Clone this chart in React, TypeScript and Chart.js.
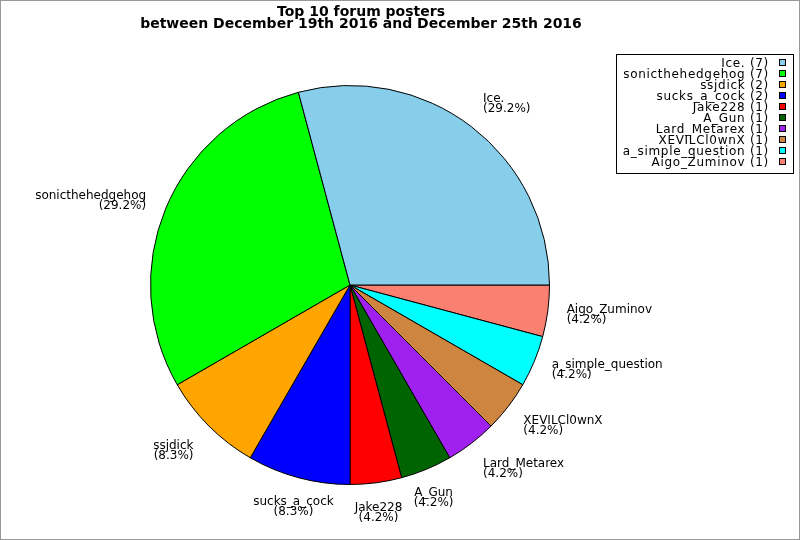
import { useEffect, useRef } from "react";
import { Chart, registerables } from "chart.js";
Chart.register(...registerables);

const titleLines = ["Top 10 forum posters", "between December 19th 2016 and December 25th 2016"];
const posters = [
  "Ice.",
  "sonicthehedgehog",
  "ssjdick",
  "sucks_a_cock",
  "Jake228",
  "A_Gun",
  "Lard_Metarex",
  "XEVILCl0wnX",
  "a_simple_question",
  "Aigo_Zuminov",
];
const postCounts = [7, 7, 2, 2, 1, 1, 1, 1, 1, 1];
const sliceColors = [
  "#87ceeb",
  "#00ff00",
  "#ffa500",
  "#0000ff",
  "#ff0000",
  "#006400",
  "#a020f0",
  "#cd853f",
  "#00ffff",
  "#fa8072",
];

const FONT = "12px 'DejaVu Sans'";
const BOLD = "bold 14px 'DejaVu Sans'";

// vertical shift of a slice label (fraction of its height) by angle, deg ccw from east
const dyTable: [number, number][] = [
  [0, 0.55],
  [45, 1],
  [135, 1],
  [157.5, 0.58],
  [225, 0],
  [315, 0],
  [337.5, 0.5],
  [360, 0.55],
];

const alignFor = (a: number) => {
  let dx = 0;
  if (a >= 90 && a <= 240) dx = 1;
  else if (a > 240 && a < 300) dx = 0.5;
  let dy = 0;
  for (let k = 0; k < dyTable.length - 1; k++) {
    const [a0, d0] = dyTable[k];
    const [a1, d1] = dyTable[k + 1];
    if (a >= a0 && a <= a1) {
      dy = d0 + ((a - a0) / (a1 - a0)) * (d1 - d0);
      break;
    }
  }
  return { dx, dy };
};

const decorations = {
  id: "decorations",
  beforeDraw(chart: Chart) {
    const { ctx, width, height } = chart;
    ctx.save();
    ctx.fillStyle = "#ffffff";
    ctx.fillRect(0, 0, width, height);
    ctx.restore();
  },
  afterDraw(chart: Chart) {
    const { ctx, width, height } = chart;
    const total = postCounts.reduce((s, v) => s + v, 0);
    ctx.save();

    // title
    ctx.fillStyle = "#000";
    ctx.font = BOLD;
    ctx.textAlign = "center";
    ctx.textBaseline = "alphabetic";
    titleLines.forEach((line, i) => ctx.fillText(line, 361, 16 + i * 12));

    // slice labels
    ctx.font = FONT;
    ctx.textBaseline = "top";
    ctx.textAlign = "left";
    const meta = chart.getDatasetMeta(0);
    const n = posters.length;
    meta.data.forEach((el: any, idx: number) => {
      const i = n - 1 - idx;
      const mid = (el.startAngle + el.endAngle) / 2;
      const r = el.outerRadius + 19;
      let deg = (-mid * 180) / Math.PI;
      deg = ((deg % 360) + 360) % 360;
      const { dx, dy } = alignFor(deg);
      const ax = el.x + Math.cos(mid) * r - (dx === 1 ? 2 : 0);
      const ay = el.y + Math.sin(mid) * r;
      const lines = [posters[i], "(" + ((postCounts[i] / total) * 100).toFixed(1) + "%)"];
      const w = Math.max(...lines.map((l) => ctx.measureText(l).width));
      const h = 19;
      const left = ax - dx * w;
      const top = ay - dy * h;
      lines.forEach((l, k) => {
        const lw = ctx.measureText(l).width;
        const lx = dx === 1 ? left + w - lw : dx === 0.5 ? left + (w - lw) / 2 : left;
        ctx.fillText(l, lx, top + k * 10);
      });
    });

    // legend
    ctx.strokeStyle = "#000";
    ctx.lineWidth = 1;
    ctx.strokeRect(616.5, 54.5, 177, 119);
    ctx.textAlign = "right";
    ctx.textBaseline = "alphabetic";
    (ctx as any).letterSpacing = "0.7px";
    posters.forEach((name, i) => {
      const y = 67 + i * 11;
      ctx.fillStyle = "#000";
      ctx.fillText(name + " (" + postCounts[i] + ")", 769, y);
      ctx.fillStyle = sliceColors[i];
      ctx.fillRect(779, y - 7, 6, 6);
      ctx.strokeRect(779.5, y - 7.5, 6, 6);
    });
    (ctx as any).letterSpacing = "0px";

    // outer frame
    ctx.strokeStyle = "#999";
    ctx.strokeRect(0.5, 0.5, width - 1, height - 1);
    ctx.restore();
  },
};

const App = () => {
  const canvasRef = useRef<HTMLCanvasElement | null>(null);
  useEffect(() => {
    document.body.style.margin = "0";
    if (!canvasRef.current) return;
    const chart = new Chart(canvasRef.current, {
      type: "pie",
      data: {
        labels: [...posters].reverse(),
        datasets: [
          {
            data: [...postCounts].reverse(),
            backgroundColor: [...sliceColors].reverse(),
            borderColor: "#000",
            borderWidth: 1,
          },
        ],
      },
      options: {
        responsive: false,
        animation: false,
        rotation: 90,
        layout: { padding: { left: 150, right: 250, top: 85, bottom: 55 } },
        plugins: {
          legend: { display: false },
          title: { display: false },
          tooltip: { enabled: false },
        },
      },
      plugins: [decorations],
    });
    return () => {
      chart.destroy();
    };
  }, []);

  return (
    <canvas
      ref={canvasRef}
      width={800}
      height={540}
      style={{ display: "block", width: 800, height: 540 }}
    />
  );
};

export default App;
